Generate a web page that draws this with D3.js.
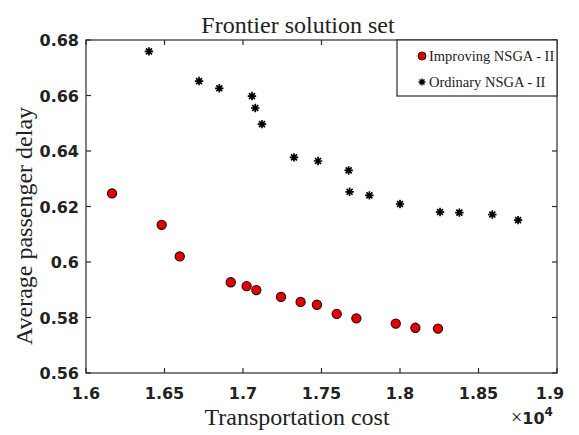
<!DOCTYPE html>
<html>
<head>
<meta charset="utf-8">
<script src="https://cdn.jsdelivr.net/npm/d3@7"></script>
<style>
  html, body { margin: 0; padding: 0; background: #fff; }
  svg { display: block; }
  .tick-lbl { font-family: "DejaVu Sans", sans-serif; font-weight: bold; font-size: 16px; fill: #222; }
  .serif { font-family: "Liberation Serif", "Times New Roman", serif; fill: #222; }
</style>
</head>
<body>
<div id="chart"></div>
<script>
// ──────────────  data (cost in units of 1e4, delay)

const improvingCost  = [1.6166, 1.6482, 1.6597, 1.6922, 1.7023, 1.7085, 1.7242, 1.7367, 1.7471, 1.7597, 1.7722, 1.7973, 1.8098, 1.8242];
const improvingDelay = [0.6247, 0.6134, 0.6020, 0.5927, 0.5913, 0.5899, 0.5874, 0.5856, 0.5846, 0.5813, 0.5797, 0.5778, 0.5763, 0.5760];

const ordinaryCost  = [1.6401, 1.6720, 1.6849, 1.7057, 1.7078, 1.7121, 1.7325, 1.7478, 1.7673, 1.7679, 1.7805, 1.8000, 1.8255, 1.8378, 1.8588, 1.8752];
const ordinaryDelay = [0.6759, 0.6652, 0.6626, 0.6598, 0.6555, 0.6497, 0.6377, 0.6364, 0.6330, 0.6253, 0.6240, 0.6209, 0.6180, 0.6178, 0.6171, 0.6151];

const xTicks = [1.6, 1.65, 1.7, 1.75, 1.8, 1.85, 1.9];
const yTicks = [0.56, 0.58, 0.6, 0.62, 0.64, 0.66, 0.68];

const seriesNames = ['Improving NSGA - II', 'Ordinary NSGA - II'];

// ──────────────  layout

const W = 579, H = 435;
const plot = { left: 86, right: 557, top: 40, bottom: 373 };

const svg = d3.select('#chart').append('svg')
  .attr('width', W).attr('height', H);

const x = d3.scaleLinear().domain([1.6, 1.9]).range([plot.left, plot.right]);
const y = d3.scaleLinear().domain([0.56, 0.68]).range([plot.bottom, plot.top]);

const frameColor = '#2b2b2b';
const tickLen = 5;

// axes box
svg.append('rect')
  .attr('x', plot.left).attr('y', plot.top)
  .attr('width', plot.right - plot.left).attr('height', plot.bottom - plot.top)
  .attr('fill', 'none').attr('stroke', frameColor).attr('stroke-width', 1.2);

// inward ticks — bottom/top and left/right
const ticks = svg.append('g').attr('stroke', frameColor).attr('stroke-width', 1.2);
xTicks.forEach(t => {
  ticks.append('line').attr('x1', x(t)).attr('x2', x(t)).attr('y1', plot.bottom).attr('y2', plot.bottom - tickLen);
  ticks.append('line').attr('x1', x(t)).attr('x2', x(t)).attr('y1', plot.top).attr('y2', plot.top + tickLen);
});
yTicks.forEach(t => {
  ticks.append('line').attr('x1', plot.left).attr('x2', plot.left + tickLen).attr('y1', y(t)).attr('y2', y(t));
  ticks.append('line').attr('x1', plot.right).attr('x2', plot.right - tickLen).attr('y1', y(t)).attr('y2', y(t));
});

// tick labels
svg.append('g').selectAll('text')
  .data(xTicks).join('text')
  .attr('class', 'tick-lbl')
  .attr('x', (d, i) => x(d) - (i === xTicks.length - 1 ? 7 : 0))
  .attr('y', 399)
  .attr('text-anchor', 'middle')
  .text(d => d3.format('~g')(d));

svg.append('g').selectAll('text')
  .data(yTicks).join('text')
  .attr('class', 'tick-lbl')
  .attr('x', 79)
  .attr('y', d => y(d) + 6)
  .attr('text-anchor', 'end')
  .text(d => d3.format('~g')(d));

// exponent label
const expo = svg.append('text').attr('x', 511).attr('y', 424);
expo.append('tspan').attr('class', 'serif').style('font-size', '20px').text('×');
expo.append('tspan').attr('class', 'tick-lbl').text('10');
expo.append('tspan').attr('class', 'tick-lbl').style('font-size', '12px').attr('dy', -8).text('4');

// title + axis labels
svg.append('text').attr('class', 'serif')
  .attr('x', 298).attr('y', 33)
  .attr('text-anchor', 'middle')
  .style('font-size', '24px')
  .text('Frontier solution set');

svg.append('text').attr('class', 'serif')
  .attr('x', 297).attr('y', 425)
  .attr('text-anchor', 'middle')
  .style('font-size', '24px')
  .text('Transportation cost');

svg.append('text').attr('class', 'serif')
  .attr('transform', 'translate(32,226) rotate(-90)')
  .attr('text-anchor', 'middle')
  .style('font-size', '24px')
  .text('Average passenger delay');

// ──────────────  markers

const starPath = r => {
  const d = r * Math.SQRT1_2;
  return `M${-r},0L${r},0M0,${-r}L0,${r}M${-d},${-d}L${d},${d}M${-d},${d}L${d},${-d}`;
};

const ordinary = ordinaryCost.map((c, i) => ({ c, v: ordinaryDelay[i] }));
const improving = improvingCost.map((c, i) => ({ c, v: improvingDelay[i] }));

svg.append('g').selectAll('path')
  .data(ordinary).join('path')
  .attr('transform', d => `translate(${x(d.c)},${y(d.v)})`)
  .attr('d', starPath(4.2))
  .attr('stroke', '#000').attr('stroke-width', 1.7).attr('fill', 'none');

svg.append('g').selectAll('circle')
  .data(improving).join('circle')
  .attr('cx', d => x(d.c)).attr('cy', d => y(d.v))
  .attr('r', 4.6)
  .attr('fill', '#e00000').attr('stroke', '#2a0000').attr('stroke-width', 1.1);

// ──────────────  legend

const lg = svg.append('g');
lg.append('rect')
  .attr('x', 397).attr('y', plot.top)
  .attr('width', plot.right - 397).attr('height', 56)
  .attr('fill', '#fff').attr('stroke', frameColor).attr('stroke-width', 1.2);

lg.append('circle').attr('cx', 422).attr('cy', 56).attr('r', 4)
  .attr('fill', '#e00000').attr('stroke', '#2a0000').attr('stroke-width', 1);
lg.append('path').attr('transform', 'translate(422,82)').attr('d', starPath(3.5))
  .attr('stroke', '#000').attr('stroke-width', 1.4).attr('fill', 'none');

lg.selectAll('text.lg')
  .data(seriesNames).join('text')
  .attr('class', 'serif lg')
  .attr('x', 429).attr('y', (d, i) => 61 + i * 26)
  .style('font-size', '14.5px')
  .text(d => d);
</script>
</body>
</html>
